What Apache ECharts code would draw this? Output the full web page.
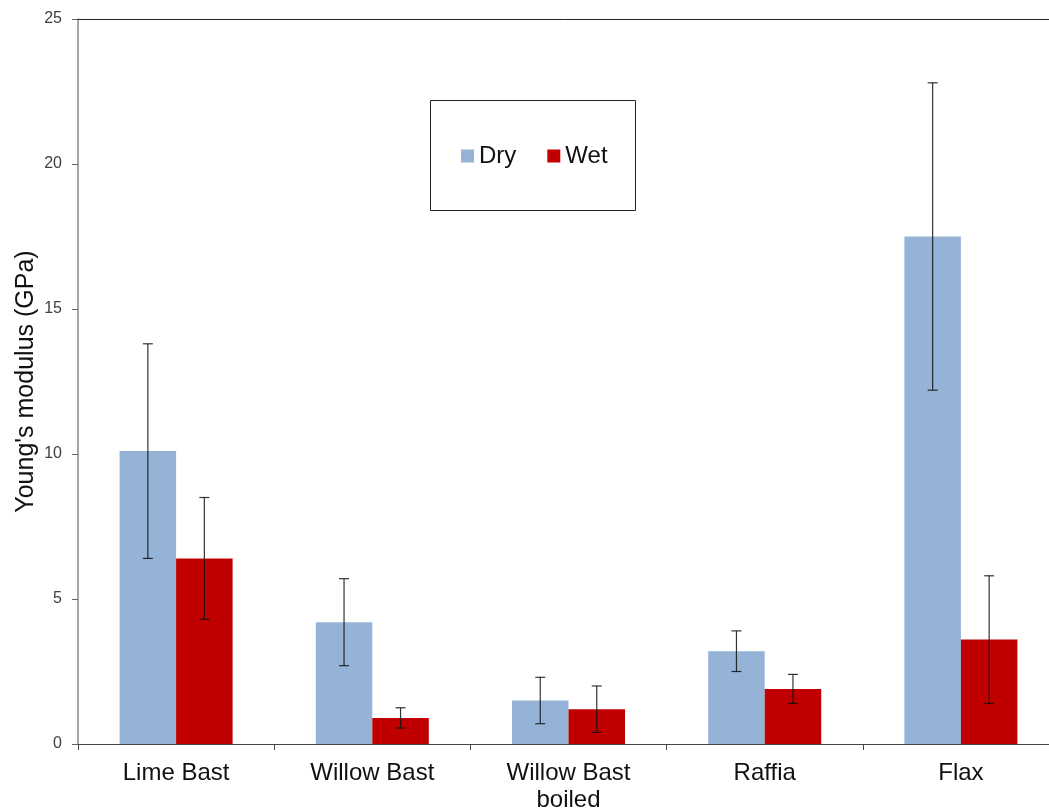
<!DOCTYPE html>
<html>
<head>
<meta charset="utf-8">
<script src="https://cdn.jsdelivr.net/npm/echarts@6/dist/echarts.min.js"></script>
<style>
  html, body { margin: 0; padding: 0; background: #fff; }
  #chart { width: 1049px; height: 811px; }
</style>
</head>
<body>
<div id="chart"></div>
<script>
// Young's modulus of bast fibres, dry vs wet, with standard deviation bars
const categories = ['Lime Bast', 'Willow Bast', 'Willow Bast\nboiled', 'Raffia', 'Flax'];
const dryValues = [10.1, 4.2, 1.5, 3.2, 17.5];
const dryErrors = [3.7, 1.5, 0.8, 0.7, 5.3];
const wetValues = [6.4, 0.9, 1.2, 1.9, 3.6];
const wetErrors = [2.1, 0.35, 0.8, 0.5, 2.2];
const yTicks = [0, 5, 10, 15, 20, 25];

const DRY = '#95B3D7';
const WET = '#C00000';
const BAR_FRACTION = 0.288;   // bar width as a share of one category band

function errorData(values, errors) {
  return values.map((v, i) => [i, v - errors[i], v + errors[i]]);
}

// side = -1 for the left bar of a group, +1 for the right one
function errorRenderer(side) {
  return function (params, api) {
    const band = api.size([1, 0])[0];
    const offset = side * band * BAR_FRACTION / 2;
    const lo = api.coord([api.value(0), api.value(1)]);
    const hi = api.coord([api.value(0), api.value(2)]);
    const x = lo[0] + offset;
    const cap = 5;
    const style = { stroke: '#111', lineWidth: 1.2, opacity: 0.85 };
    return {
      type: 'group',
      children: [
        { type: 'line', shape: { x1: x, y1: hi[1], x2: x, y2: lo[1] }, style },
        { type: 'line', shape: { x1: x - cap, y1: hi[1], x2: x + cap, y2: hi[1] }, style },
        { type: 'line', shape: { x1: x - cap, y1: lo[1], x2: x + cap, y2: lo[1] }, style }
      ]
    };
  };
}

const chart = echarts.init(document.getElementById('chart'), null, { renderer: 'canvas' });

chart.setOption({
  animation: false,
  backgroundColor: '#fff',
  textStyle: { fontFamily: 'Liberation Sans, Arial, sans-serif' },
  // the plot runs a little past the right edge of the canvas
  grid: { left: 78, top: 19, bottom: 67, width: 981, containLabel: false, outerBoundsMode: 'none' },
  graphic: [{
    type: 'rect',
    shape: { x: 430.5, y: 100.5, width: 205, height: 110 },
    style: { fill: 'none', stroke: '#222', lineWidth: 1 },
    z: 10
  }],
  legend: {
    left: 456,
    top: 139,
    itemWidth: 13,
    itemHeight: 13,
    itemGap: 31,
    icon: 'rect',
    textStyle: { fontSize: 24, color: '#111' },
    data: ['Dry', 'Wet']
  },
  xAxis: [{
    type: 'category',
    data: categories,
    axisLine: { lineStyle: { color: '#444', width: 1 } },
    axisTick: { show: true, length: 6, lineStyle: { color: '#444' } },
    axisLabel: { fontSize: 24, color: '#111', margin: 16, lineHeight: 27, interval: 0 },
    splitLine: { show: false }
  }, {
    type: 'category',
    position: 'top',
    data: categories,
    axisLine: { lineStyle: { color: '#222', width: 1 } },
    axisTick: { show: false },
    axisLabel: { show: false }
  }],
  yAxis: {
    type: 'value',
    min: yTicks[0],
    max: yTicks[yTicks.length - 1],
    interval: 5,
    name: "Young's modulus (GPa)",
    nameLocation: 'middle',
    nameGap: 39,
    nameMoveOverlap: false,
    nameTextStyle: { fontSize: 25, color: '#111' },
    axisLine: { show: true, lineStyle: { color: '#888', width: 1.5 } },
    axisTick: { show: true, length: 6, lineStyle: { color: '#666' } },
    axisLabel: { fontSize: 16, color: '#404040', margin: 16 },
    splitLine: { show: false }
  },
  series: [{
    name: 'Dry',
    type: 'bar',
    data: dryValues,
    barWidth: (BAR_FRACTION * 100) + '%',
    barGap: '0%',
    itemStyle: { color: DRY }
  }, {
    name: 'Wet',
    type: 'bar',
    data: wetValues,
    barWidth: (BAR_FRACTION * 100) + '%',
    barGap: '0%',
    itemStyle: { color: WET }
  }, {
    type: 'custom',
    renderItem: errorRenderer(-1),
    data: errorData(dryValues, dryErrors),
    encode: { x: 0, y: [1, 2] },
    z: 5,
    silent: true
  }, {
    type: 'custom',
    renderItem: errorRenderer(1),
    data: errorData(wetValues, wetErrors),
    encode: { x: 0, y: [1, 2] },
    z: 5,
    silent: true
  }]
});
</script>
</body>
</html>
